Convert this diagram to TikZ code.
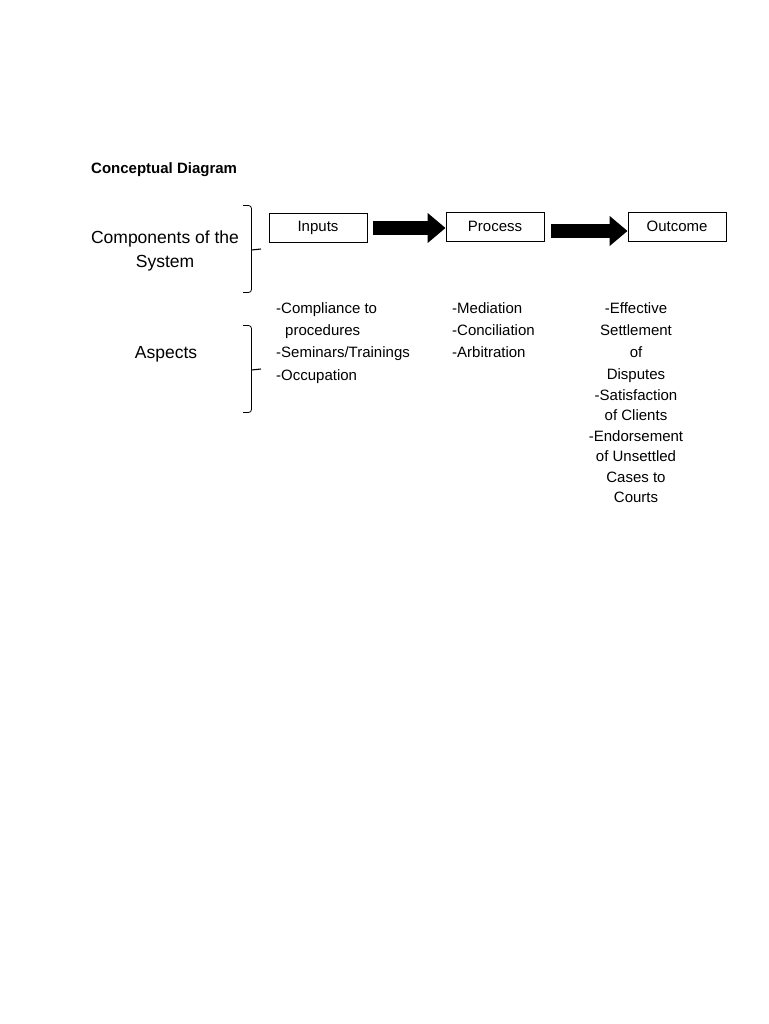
\documentclass[tikz,border=0pt]{standalone}
\usepackage{fontspec}
\setmainfont{Liberation Sans}
\usetikzlibrary{arrows.meta}
\begin{document}
\begin{tikzpicture}[x=1pt,y=-1pt]
        \tikzstyle{stage}=[rectangle,draw=black,line width=0.9pt,minimum width=98pt,minimum height=29pt,inner sep=0pt,font=\fontsize{15}{18}\selectfont]
        \tikzstyle{flow}=[draw,line width=14pt,-{Triangle[length=18pt,width=29pt]}]
        \tikzstyle{heading}=[align=center,inner sep=0pt,font=\fontsize{17.5}{24}\selectfont]
        \tikzstyle{items}=[inner sep=0pt,font=\fontsize{15}{22.3}\selectfont]
        \tikzstyle{bracket}=[draw,line width=0.8pt,rounded corners=3pt]
        \tikzstyle{spur}=[draw,line width=1.1pt]
        \useasboundingbox (0,0) rectangle (768,1024);
        \begin{scope}
                \node [anchor=base west,inner sep=0pt,font=\bfseries\fontsize{15}{18}\selectfont] (title) at (91,173.5) {Conceptual Diagram};
                \node [heading] (components) at (165,251) {Components of the\\System};
                \node [heading] (aspects) at (166,354) {Aspects};
                % stages
                \node [stage] (inputs) at (318,228) {Inputs};
                \node [stage] (process) at (495,226.5) {Process};
                \node [stage] (outcome) at (677,226.5) {Outcome};
                \path[flow,shorten <=5.5pt] (inputs.east) -- (inputs.east -| process.west);
                \path[flow,shorten <=7pt] ([yshift=-4.5pt]process.east) -- ([yshift=-4.5pt]outcome.west);
                % braces
                \path[bracket] (243,205.5) -| (251.5,249) |- (243,292.5);
                \path[spur] (251.5,250) -- (261,249);
                \path[bracket] (243,325.5) -| (251.5,369) |- (243,412.5);
                \path[spur] (251.5,370) -- (261,369);
                % aspects
                \node [items,anchor=north west,align=left] (inputitems) at (276,302.2) {-Compliance to\\\hspace{9pt}procedures\\-Seminars/Trainings\\-Occupation};
                \node [items,anchor=north west,align=left] (processitems) at (452,302.2) {-Mediation\\-Conciliation\\-Arbitration};
                \node [items,anchor=north,align=center] (outcomeitems) at (636,302) {-Effective\\Settlement\\of\\Disputes\\[-1.8pt]-Satisfaction\\[-1.8pt]of Clients\\[-1.8pt]-Endorsement\\[-1.8pt]of Unsettled\\[-1.8pt]Cases to\\[-1.8pt]Courts};
        \end{scope}
\end{tikzpicture}
\end{document}
